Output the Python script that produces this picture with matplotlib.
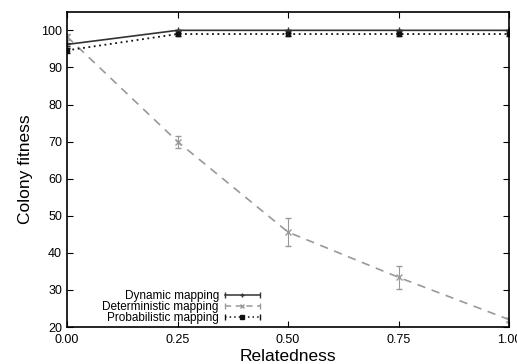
import matplotlib.pyplot as plt
import numpy as np
from matplotlib.legend_handler import HandlerBase
from matplotlib.lines import Line2D

plt.rcParams['font.family'] = ['Liberation Sans', 'DejaVu Sans']

relatedness = [0.0, 0.25, 0.5, 0.75, 1.0]
dynamic = [96.2, 100.0, 100.0, 100.0, 100.0]
dynamic_err = [0.3, 0.2, 0.2, 0.2, 0.2]
deterministic = [98.3, 70.0, 45.6, 33.4, 22.0]
deterministic_err = [0.8, 1.6, 3.8, 3.1, 0.4]
probabilistic = [94.6, 99.0, 99.0, 99.0, 99.0]
probabilistic_err = [0.6, 0.4, 0.4, 0.4, 0.4]


class ErrKeyHandler(HandlerBase):
    # gnuplot-like key: horizontal line with caps at both ends, point in the middle
    def __init__(self, color, ls, marker, ms):
        super().__init__()
        self.color, self.ls, self.marker, self.ms = color, ls, marker, ms

    def create_artists(self, legend, orig, xd, yd, width, height, fontsize, trans):
        y = yd + height / 2.0
        x0, x1 = -xd, -xd + width
        line = Line2D([x0, x1], [y, y], color=self.color, ls=self.ls, lw=1.1,
                      transform=trans)
        caps = Line2D([x0, x1], [y, y], color=self.color, ls='none', marker='|',
                      ms=5, mew=1.0, transform=trans)
        pt = Line2D([(x0 + x1) / 2], [y], color=self.color, ls='none',
                    marker=self.marker, ms=self.ms, transform=trans)
        return [line, caps, pt]


fig = plt.figure(figsize=(5.17, 3.64), dpi=100)
ax = fig.add_axes([0.1296, 0.1016, 0.855, 0.866])

ax.errorbar(relatedness, dynamic, yerr=dynamic_err, color='#333333', lw=1.2,
            ls='-', marker='+', ms=4, capsize=2, elinewidth=0.8)
ax.errorbar(relatedness, deterministic, yerr=deterministic_err, color='#999999',
            lw=1.2, ls=(0, (5, 4)), marker='x', ms=4, capsize=2, elinewidth=0.8)
ax.errorbar(relatedness, probabilistic, yerr=probabilistic_err, color='#111111',
            lw=1.3, ls=(0, (1, 2)), marker='s', ms=3.5, capsize=2, elinewidth=0.8)

ax.set_xlim(0, 1)
ax.set_ylim(20, 105)
ax.set_xticks([0, 0.25, 0.5, 0.75, 1.0])
ax.set_xticklabels(['0.00', '0.25', '0.50', '0.75', '1.00'])
ax.set_yticks(np.arange(20, 101, 10))
ax.tick_params(direction='in', top=True, right=True, length=4, labelsize=9)
ax.tick_params(axis='x', pad=5)
for s in ax.spines.values():
    s.set_linewidth(1.2)

ax.set_xlabel('Relatedness', fontsize=12.5, labelpad=2)
ax.set_ylabel('Colony fitness', fontsize=12.5, labelpad=6)

k1 = Line2D([], [])
k2 = Line2D([], [])
k3 = Line2D([], [])
leg = ax.legend([k1, k2, k3],
                ['Dynamic mapping', 'Deterministic mapping', 'Probabilistic mapping'],
                handler_map={k1: ErrKeyHandler('#333333', '-', '+', 3),
                             k2: ErrKeyHandler('#999999', (0, (4, 3)), 'x', 3),
                             k3: ErrKeyHandler('#111111', (0, (1, 2)), 's', 3)},
                loc='lower left', bbox_to_anchor=(0.056, -0.024), frameon=False,
                markerfirst=False, fontsize=8.5, handlelength=3.0,
                labelspacing=-0.1, handletextpad=0.5)

fig.savefig('out.png', dpi=100)
